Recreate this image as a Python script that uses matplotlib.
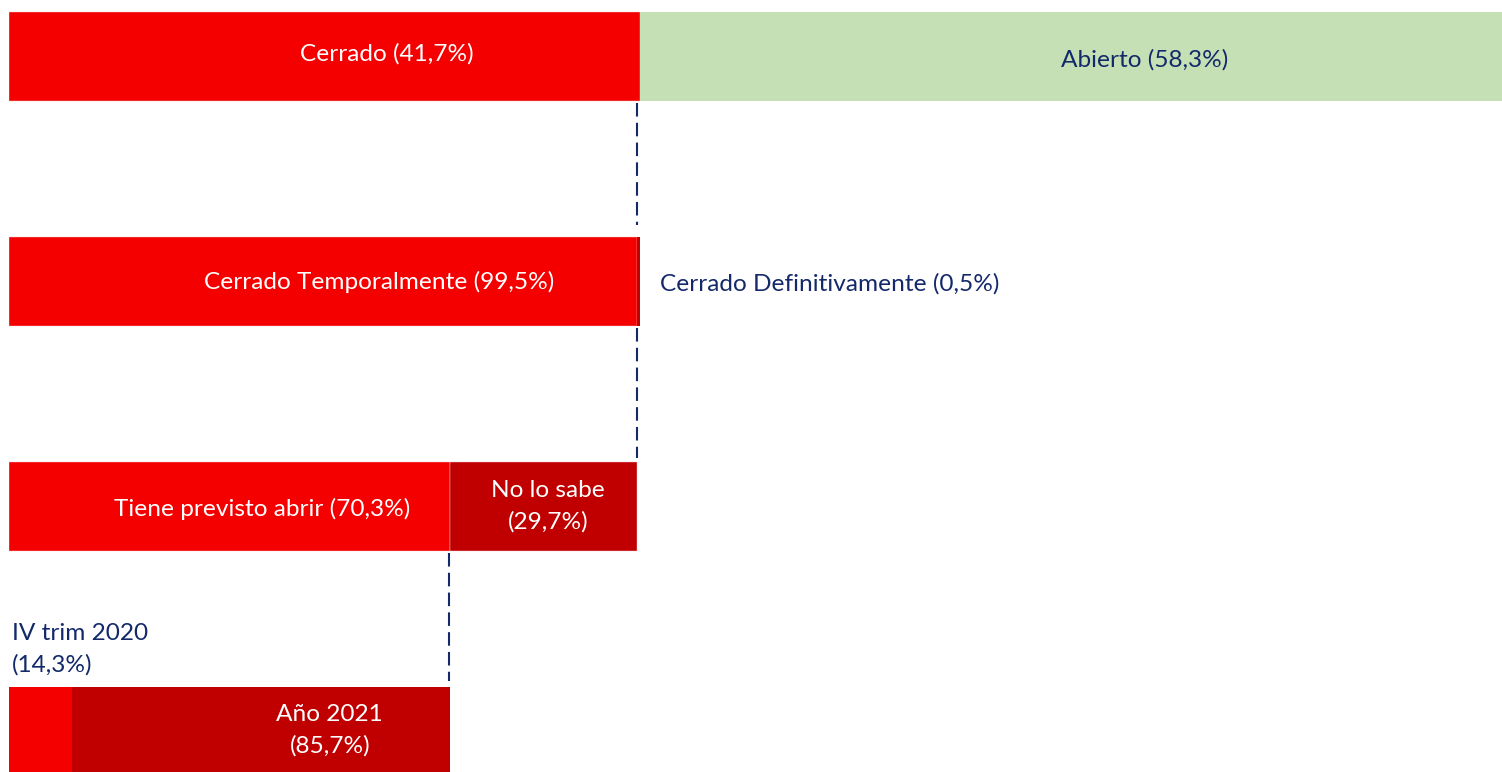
import matplotlib.pyplot as plt

# datos
cerrado = 41.7
abierto = 58.3
temporal = 99.5
definitivo = 0.5
previsto = 70.3
no_sabe = 29.7
iv_trim = 14.3
ano_2021 = 85.7

rojo = '#f50000'
rojo_osc = '#c00000'
verde = '#c5e0b4'
azul = '#13296a'

plt.rcParams['font.family'] = ['Lato', 'DejaVu Sans']

fig = plt.figure(figsize=(15.02, 7.72), dpi=100)
ax = fig.add_axes([9 / 1502, 0, 1 - 9 / 1502, 1])
ax.axis('off')

alto = 0.396
borde = dict(edgecolor='#f8d0d0', linewidth=0.3)

# fila 0: cerrado / abierto (porcentaje sobre el total)
ax.barh(0, cerrado, height=alto, color=rojo, **borde)
ax.barh(0, abierto, left=cerrado, height=alto, color=verde, linewidth=0)

# fila 1: desglose de cerrado
w_temp = cerrado * temporal / 100
w_def = cerrado * definitivo / 100
ax.barh(1, w_temp, height=alto, color=rojo, **borde)
ax.barh(1, w_def, left=w_temp, height=alto, color=rojo_osc, linewidth=0)

# fila 2: desglose de cerrado temporalmente
w_prev = w_temp * previsto / 100
w_nose = w_temp * no_sabe / 100
ax.barh(2, w_prev, height=alto, color=rojo, **borde)
ax.barh(2, w_nose, left=w_prev, height=alto, color=rojo_osc, **borde)

# fila 3: desglose de tiene previsto abrir
w_iv = w_prev * iv_trim / 100
w_ano = w_prev * ano_2021 / 100
ax.barh(3, w_iv, height=alto, color=rojo, linewidth=0)
ax.barh(3, w_ano, left=w_iv, height=alto, color=rojo_osc, linewidth=0)

# lineas discontinuas
guion = (0, (6.5, 3))
ax.vlines(w_temp, 0.205, 0.75, color=azul, linewidth=1.5, linestyles=[guion])
ax.vlines(w_temp, 1.205, 1.785, color=azul, linewidth=1.5, linestyles=[guion])
ax.vlines(w_prev - 0.12, 2.205, 2.775, color=azul, linewidth=1.5, linestyles=[guion])

fs = 17.6
ax.text(24.98, -0.01, 'Cerrado (41,7%)', color='white', fontsize=fs, ha='center', va='center')
ax.text(75.08, 0.015, 'Abierto (58,3%)', color=azul, fontsize=fs, ha='center', va='center')
ax.text(24.45, 1.0, 'Cerrado Temporalmente (99,5%)', color='white', fontsize=fs, ha='center', va='center')
ax.text(43.03, 1.01, 'Cerrado Definitivamente (0,5%)', color=azul, fontsize=fs, ha='left', va='center')
ax.text(16.72, 2.01, 'Tiene previsto abrir (70,3%)', color='white', fontsize=fs, ha='center', va='center')
ax.text(35.62, 2.0, 'No lo sabe\n(29,7%)', color='white', fontsize=fs, ha='center', va='center',
        linespacing=1.55)
ax.text(0.2, 2.635, 'IV trim 2020\n(14,3%)', color=azul, fontsize=fs, ha='left', va='center',
        linespacing=1.55)
ax.text(21.2, 2.995, 'Año 2021\n(85,7%)', color='white', fontsize=fs, ha='center', va='center',
        linespacing=1.55)

ax.set_xlim(0, (1502 - 9) / (631 / cerrado))
ax.set_ylim((772 - 56.5) / 225, -56.5 / 225)

fig.savefig('out.png', dpi=100)
